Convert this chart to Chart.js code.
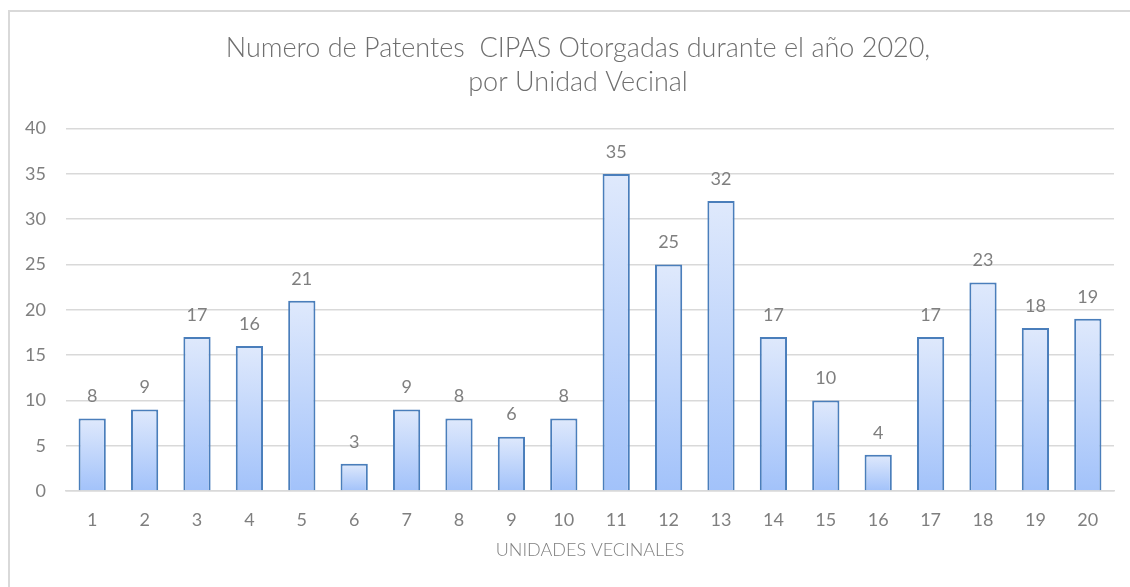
<!DOCTYPE html>
<html>
<head>
<meta charset="utf-8">
<script src="https://cdn.jsdelivr.net/npm/chart.js@4"></script>
<style>
  html, body { margin: 0; padding: 0; background: #fff; overflow: hidden; width: 1130px; height: 587px; }
  .frame {
    position: absolute; left: 8px; top: 10px; width: 1300px; height: 700px;
    border-top: 2px solid #d9d9d9; border-left: 2px solid #d9d9d9;
  }
  .wrap { position: absolute; left: 10px; top: 12px; width: 1120px; height: 575px; }
</style>
</head>
<body>
<div class="frame"></div>
<div class="wrap"><canvas id="chart"></canvas></div>
<script>
// values
const unidades = ['1','2','3','4','5','6','7','8','9','10','11','12','13','14','15','16','17','18','19','20'];
const patentes = [8, 9, 17, 16, 21, 3, 9, 8, 6, 8, 35, 25, 32, 17, 10, 4, 17, 23, 18, 19];
const yTicks = [0, 5, 10, 15, 20, 25, 30, 35, 40];

const FONT = 'Lato, "Open Sans", sans-serif';
const GRAY = '#7f7f7f';

// bar gradient, light on top, darker at the base
const barFill = (ctx) => {
  const chart = ctx.chart;
  if (!chart.chartArea || !chart.scales.y) return '#c3d6f8';
  const y = chart.scales.y;
  const top = y.getPixelForValue(ctx.raw);
  const base = y.getPixelForValue(0);
  if (!isFinite(top) || top === base) return '#c3d6f8';
  const g = chart.ctx.createLinearGradient(0, top, 0, base);
  g.addColorStop(0, '#dfe9fc');
  g.addColorStop(1, '#a2c2fa');
  return g;
};

// numbers above the bars
const valueLabels = {
  id: 'valueLabels',
  afterDatasetsDraw(chart) {
    const c = chart.ctx;
    const meta = chart.getDatasetMeta(0);
    c.save();
    c.font = '18px ' + FONT;
    c.fillStyle = GRAY;
    c.textAlign = 'center';
    c.textBaseline = 'middle';
    meta.data.forEach((bar, i) => {
      c.fillText(String(patentes[i]), bar.x, bar.y - 22);
    });
    c.restore();
  }
};

// the original title sits a bit right of the canvas centre
const nudgeTitle = {
  id: 'nudgeTitle',
  afterLayout(chart) {
    if (chart.titleBlock) chart.titleBlock.left += 32;
  }
};

new Chart(document.getElementById('chart'), {
  type: 'bar',
  data: {
    labels: unidades,
    datasets: [{
      data: patentes,
      backgroundColor: barFill,
      borderColor: '#4a7ebb',
      borderWidth: 2,
      barPercentage: 0.52,
      categoryPercentage: 1
    }]
  },
  options: {
    responsive: true,
    maintainAspectRatio: false,
    animation: false,
    layout: { padding: { left: 0, right: 16, top: 0, bottom: 0 } },
    plugins: {
      legend: { display: false },
      tooltip: { enabled: false },
      title: {
        display: true,
        text: ['Numero de Patentes  CIPAS Otorgadas durante el año 2020,', 'por Unidad Vecinal'],
        color: '#6f6f6f',
        font: { family: FONT, size: 27, weight: 300, lineHeight: 1.27 },
        padding: { top: 19, bottom: 29 }
      }
    },
    scales: {
      x: {
        grid: { display: false, drawTicks: false },
        border: { display: true, color: '#d9d9d9', width: 1.5 },
        ticks: { color: GRAY, font: { family: FONT, size: 18 }, padding: 18, maxRotation: 0 },
        title: {
          display: true,
          text: 'UNIDADES VECINALES',
          color: GRAY,
          font: { family: FONT, size: 18, weight: 300 },
          padding: { top: 0, bottom: 26 }
        },
        afterFit(scale) { scale.height = 96; }
      },
      y: {
        min: 0,
        max: 40,
        afterBuildTicks(scale) { scale.ticks = yTicks.map(v => ({ value: v })); },
        grid: { color: '#d9d9d9', lineWidth: 1.5, drawTicks: false },
        border: { display: false },
        ticks: { color: GRAY, font: { family: FONT, size: 18 }, padding: 20 },
        afterFit(scale) { scale.width = 56; }
      }
    }
  },
  plugins: [valueLabels, nudgeTitle]
});
</script>
</body>
</html>
